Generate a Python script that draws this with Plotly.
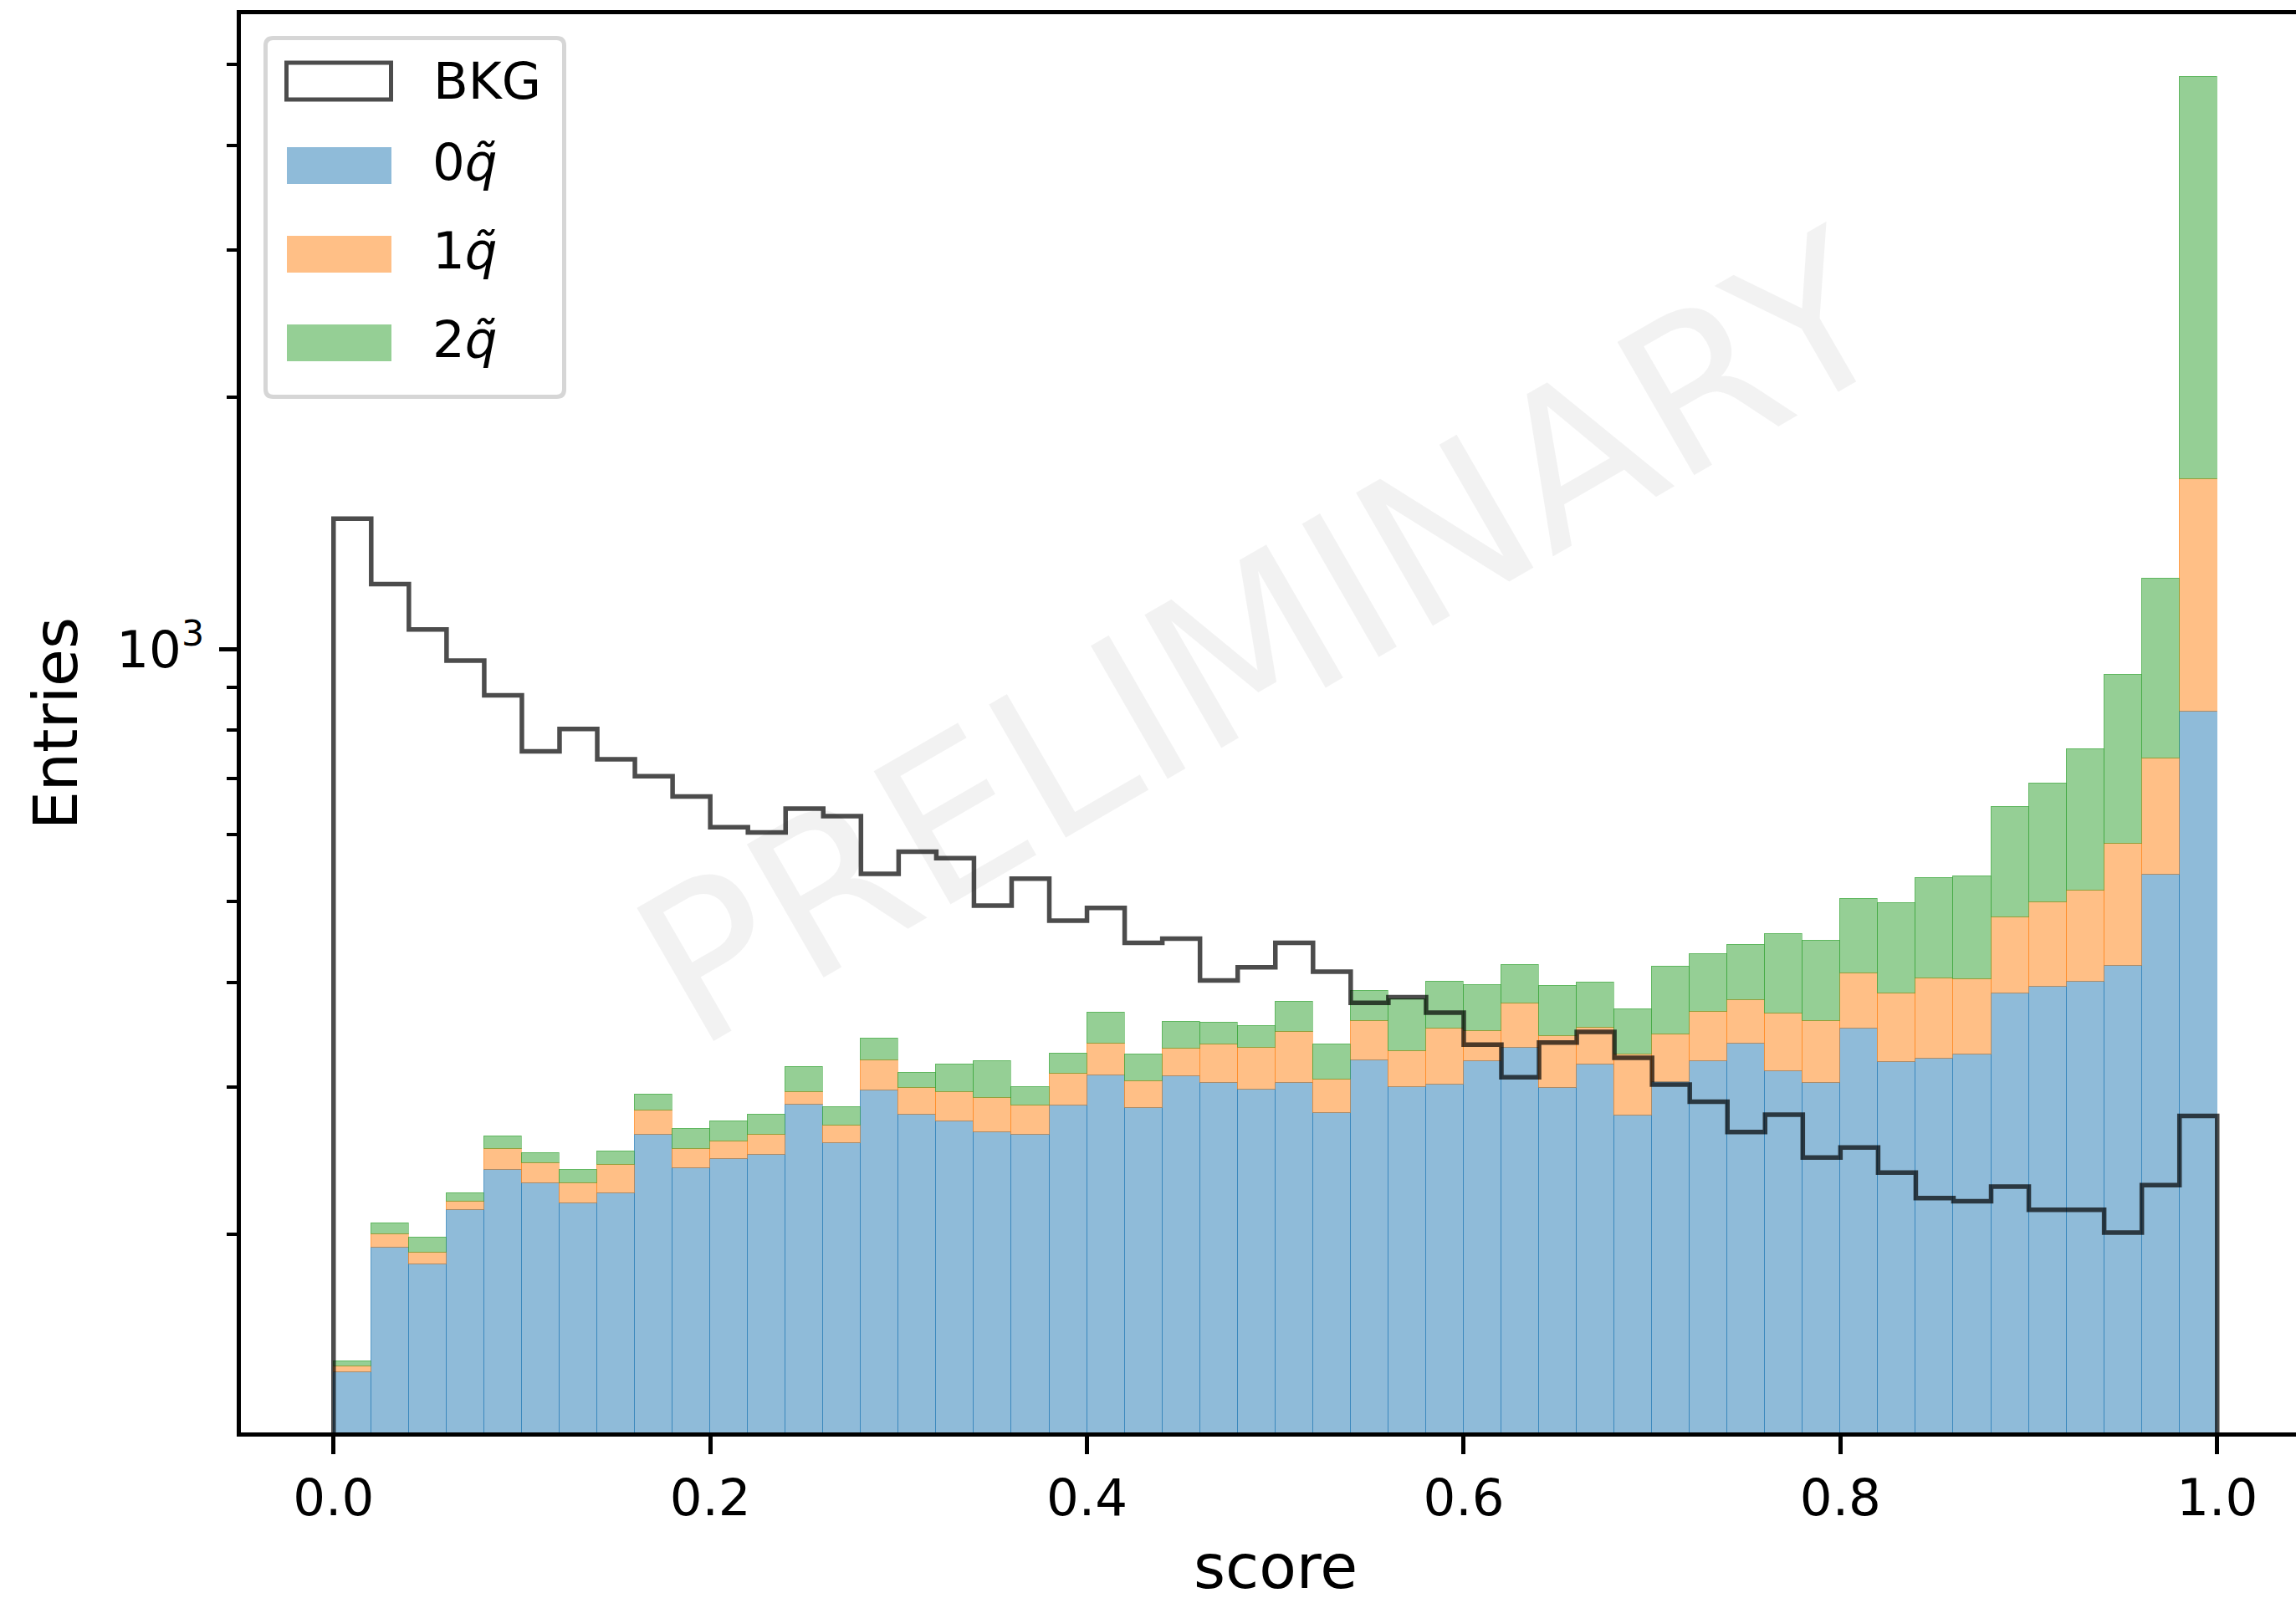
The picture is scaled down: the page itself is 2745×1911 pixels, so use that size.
import numpy as np
import plotly.graph_objects as go

# ---- histogram contents: 50 bins of width 0.02 over the score range [0, 1] ----
bin_edges = np.linspace(0.0, 1.0, 51)

zero_q = [137, 193, 184, 214, 239, 230, 218, 224, 263, 240,
          246, 249, 286, 257, 297, 278, 273, 265, 263, 285,
          310, 283, 309, 303, 298, 303, 279, 323, 300, 302,
          322, 334, 299, 319, 277, 304, 322, 338, 313, 303,
          352, 321, 324, 328, 388, 395, 401, 419, 538, 842]
one_q = [2, 7, 6, 5, 14, 13, 12, 18, 18, 13,
         12, 14, 10, 13, 26, 21, 23, 26, 22, 26,
         28, 22, 24, 34, 36, 46, 27, 37, 31, 50,
         28, 43, 46, 34, 51, 43, 47, 43, 54, 57,
         58, 67, 80, 75, 90, 104, 114, 167, 202, 755]
two_q = [2, 6, 8, 5, 9, 7, 9, 9, 13, 14,
         15, 15, 21, 14, 20, 13, 23, 31, 15, 18,
         30, 23, 26, 21, 21, 30, 31, 31, 51, 49,
         47, 43, 51, 47, 43, 71, 63, 62, 90, 89,
         93, 109, 129, 132, 170, 192, 245, 345, 473, 3227]
bkg = [1432, 1196, 1056, 969, 881, 755, 803, 739, 705, 667,
       613, 604, 645, 632, 539, 573, 563, 494, 532, 474,
       491, 446, 451, 402, 417, 446, 412, 378, 384, 368,
       337, 308, 339, 349, 325, 302, 288, 265, 278, 247,
       254, 237, 221, 219, 228, 214, 214, 201, 229, 277]

signal_labels = ["0<i>q\u0303</i>", "1<i>q\u0303</i>", "2<i>q\u0303</i>"]
signal_rgb = [(31, 119, 180), (255, 127, 14), (44, 160, 44)]
bkg_label = "BKG"

x_tick_vals = [0.0, 0.2, 0.4, 0.6, 0.8, 1.0]
x_tick_text = ["0.0", "0.2", "0.4", "0.6", "0.8", "1.0"]
y_major_vals = [1000]
y_major_text = ["10<sup>3</sup>"]
y_minor_vals = [200, 300, 400, 500, 600, 700, 800, 900, 2000, 3000, 4000, 5000]

# ---- page geometry ----
W, H = 2745, 1911
ML, MR, MT, MB = 288, 0, 17, 198
PW, PH = W - ML - MR, H - MT - MB
FONT = "DejaVu Sans"

# x: 0 sits at px 398.75, one score unit spans 2252 px
X0_PX, X_UNIT = 398.75, 2252.0
x_range = [(ML - X0_PX) / X_UNIT, (W - MR - X0_PX) / X_UNIT]
# y (log10): 10^3 sits at px 776.4, one decade spans 1001 px
Y3_PX, DEC = 776.4, 1001.0
y_range = [3 + (Y3_PX - (H - MB)) / DEC, 3 + (Y3_PX - MT) / DEC]


def px(xp):
    return (xp - ML) / PW


def py(yp):
    return (H - MB - yp) / PH


def rgba(c, a):
    return f"rgba({c[0]},{c[1]},{c[2]},{a})"


centers = 0.5 * (bin_edges[:-1] + bin_edges[1:])
widths = np.diff(bin_edges)

fig = go.Figure()

for vals, rgb in zip([zero_q, one_q, two_q], signal_rgb):
    fig.add_trace(go.Bar(
        x=centers, y=vals, width=widths,
        marker=dict(color=rgba(rgb, 0.5), line=dict(color=rgba(rgb, 0.5), width=1.5)),
        showlegend=False, hoverinfo="skip",
    ))

# background as a step outline dropping to the baseline at both ends
step_x, step_y = [bin_edges[0]], [1.0]
for i, v in enumerate(bkg):
    step_x += [bin_edges[i], bin_edges[i + 1]]
    step_y += [v, v]
step_x.append(bin_edges[-1])
step_y.append(1.0)
fig.add_trace(go.Scatter(
    x=step_x, y=step_y, mode="lines",
    line=dict(color="rgba(0,0,0,0.7)", width=5.5),
    showlegend=False, hoverinfo="skip",
))

fig.update_layout(
    width=W, height=H,
    margin=dict(l=ML, r=MR, t=MT, b=MB, autoexpand=False),
    paper_bgcolor="white", plot_bgcolor="white",
    barmode="stack", bargap=0,
    showlegend=False,
    font=dict(family=FONT, color="black"),
)

fig.update_xaxes(
    range=x_range, showgrid=False, zeroline=False,
    showline=True, linecolor="black", linewidth=4.5, mirror=True,
    ticks="outside", ticklen=21, tickwidth=4.5, tickcolor="black",
    tickvals=x_tick_vals, ticktext=x_tick_text,
    tickfont=dict(family=FONT, size=61, color="black"),
    automargin=False,
)
fig.update_yaxes(
    type="log", range=y_range, showgrid=False, zeroline=False,
    showline=True, linecolor="black", linewidth=4.5, mirror=False,
    ticks="outside", ticklen=21, tickwidth=4.5, tickcolor="black",
    tickvals=y_major_vals, ticktext=y_major_text,
    tickfont=dict(family=FONT, size=61, color="black"),
    ticklabelstandoff=6,
    minor=dict(tickvals=y_minor_vals, ticks="outside", ticklen=12,
               tickwidth=3.5, tickcolor="black", showgrid=False),
    automargin=False,
)

annotations = [
    # axis titles
    dict(text="score", xref="x", yref="paper", x=0.5, y=py(1873),
         xanchor="center", yanchor="middle", showarrow=False,
         font=dict(family=FONT, size=73, color="black")),
    dict(text="Entries", xref="paper", yref="paper", x=px(66.3), y=py(865),
         xanchor="center", yanchor="middle", textangle=-90, showarrow=False,
         font=dict(family=FONT, size=73, color="black")),
    # watermark
    dict(text="PRELIMINARY", xref="paper", yref="paper", x=px(1510), y=py(764),
         xanchor="center", yanchor="middle", textangle=-30, showarrow=False,
         font=dict(family=FONT, size=252, color="rgba(0,0,0,0.05)")),
]

# ---- legend box ----
shapes = []
lx0, lx1, ly0, ly1, r = 317.5, 674.5, 45.5, 474.5, 9


def rounded_path(x0, y0, x1, y1, rad):
    p = [
        f"M {px(x0 + rad)},{py(y0)}",
        f"L {px(x1 - rad)},{py(y0)}",
        f"Q {px(x1)},{py(y0)} {px(x1)},{py(y0 + rad)}",
        f"L {px(x1)},{py(y1 - rad)}",
        f"Q {px(x1)},{py(y1)} {px(x1 - rad)},{py(y1)}",
        f"L {px(x0 + rad)},{py(y1)}",
        f"Q {px(x0)},{py(y1)} {px(x0)},{py(y1 - rad)}",
        f"L {px(x0)},{py(y0 + rad)}",
        f"Q {px(x0)},{py(y0)} {px(x0 + rad)},{py(y0)}",
        "Z",
    ]
    return " ".join(p)


shapes.append(dict(type="path", xref="paper", yref="paper",
                   path=rounded_path(lx0, ly0, lx1, ly1, r),
                   fillcolor="white", line=dict(color="#d6d6d6", width=5)))

# background handle: open rectangle
shapes.append(dict(type="rect", xref="paper", yref="paper",
                   x0=px(342.5), x1=px(467.5), y0=py(75), y1=py(119),
                   fillcolor="rgba(0,0,0,0)",
                   line=dict(color="rgba(0,0,0,0.7)", width=5)))
annotations.append(dict(text=bkg_label, xref="paper", yref="paper",
                        x=px(516), y=py(97), xanchor="left", yanchor="middle",
                        showarrow=False, font=dict(family=FONT, size=61, color="black")))

handle_tops = [176, 282, 388]
for top, rgb, lab in zip(handle_tops, signal_rgb, signal_labels):
    shapes.append(dict(type="rect", xref="paper", yref="paper",
                       x0=px(343), x1=px(468), y0=py(top), y1=py(top + 44),
                       fillcolor=rgba(rgb, 0.5), line=dict(width=0)))
    annotations.append(dict(text=lab, xref="paper", yref="paper",
                            x=px(515), y=py(top + 18), xanchor="left", yanchor="middle",
                            showarrow=False, font=dict(family=FONT, size=61, color="black")))

fig.update_layout(shapes=shapes, annotations=annotations)

fig.write_html("out.html")
